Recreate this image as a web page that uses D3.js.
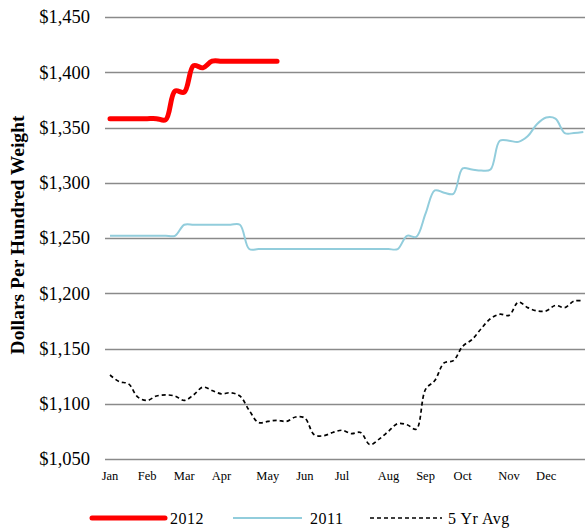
<!DOCTYPE html>
<html>
<head>
<meta charset="utf-8">
<script src="https://cdn.jsdelivr.net/npm/d3@7"></script>
<style>
	body { margin: 0; background: #fff; }
</style>
</head>
<body>
<div id="chart"></div>
<script>
// weekly points, 52 weeks, month names only shown on some weeks
var monthLabels = ["Jan", "Feb", "Mar", "Apr", "May", "Jun", "Jul", "Aug", "Sep", "Oct", "Nov", "Dec"];
var monthWeeks = [0, 4, 8, 12, 17, 21, 25, 30, 34, 38, 43, 47];

var yTicks = [1050, 1100, 1150, 1200, 1250, 1300, 1350, 1400, 1450];

var series2012 = [1358, 1358, 1358, 1358, 1358, 1358, 1357, 1383, 1382, 1406, 1404, 1410,
	1410, 1410, 1410, 1410, 1410, 1410, 1410];

var series2011 = [1252, 1252, 1252, 1252, 1252, 1252, 1252, 1252,
	1262, 1262, 1262, 1262, 1262, 1262, 1262,
	1240, 1240, 1240, 1240, 1240, 1240, 1240, 1240, 1240, 1240, 1240, 1240, 1240, 1240, 1240, 1240, 1240,
	1252, 1251, 1272, 1293, 1291, 1290, 1313, 1312, 1311, 1312, 1338, 1338, 1337, 1342, 1353, 1359, 1358,
	1345, 1345, 1346];

var series5yr = [1126, 1120, 1118, 1106, 1103, 1107, 1108, 1107, 1103, 1108, 1115, 1112, 1109,
	1110, 1107, 1094, 1083, 1084, 1085, 1084, 1088, 1087, 1072, 1071, 1074, 1076, 1073, 1074,
	1063, 1068, 1075, 1082, 1081, 1077, 1113, 1121, 1137, 1139, 1152, 1158, 1168, 1177, 1181,
	1180, 1192, 1187, 1184, 1184, 1189, 1187, 1193, 1193];

var width = 585, height = 530;
var plot = {left: 105, right: 585, top: 17, bottom: 459};
var serif = "'Liberation Serif', 'Times New Roman', Times, 'DejaVu Serif', serif";

var svg = d3.select("#chart").append("svg")
	.attr("width", width)
	.attr("height", height)
	.style("font-family", serif);

var x = d3.scalePoint()
	.domain(d3.range(52))
	.range([110, 583.3]);

var y = d3.scaleLinear()
	.domain([1050, 1450])
	.range([plot.bottom, plot.top]);

// gridlines
svg.append("g").selectAll("line")
	.data(yTicks)
	.enter()
	.append("line")
	.attr("x1", plot.left)
	.attr("x2", plot.right)
	.attr("y1", function(d) {return Math.round(y(d)) + 0.5})
	.attr("y2", function(d) {return Math.round(y(d)) + 0.5})
	.attr("stroke", "#8a8a8a")
	.attr("stroke-width", 1.6);

// y tick labels
svg.append("g").selectAll("text")
	.data(yTicks)
	.enter()
	.append("text")
	.attr("x", 90)
	.attr("y", function(d) {return y(d)})
	.attr("dy", "0.35em")
	.attr("text-anchor", "end")
	.style("font-size", "18.5px")
	.text(function(d) {return "$" + d3.format(",")(d)});

// month labels
svg.append("g").selectAll("text")
	.data(monthLabels)
	.enter()
	.append("text")
	.attr("x", function(d, i) {return x(monthWeeks[i])})
	.attr("y", 480)
	.attr("text-anchor", "middle")
	.style("font-size", "12.5px")
	.text(function(d) {return d});

svg.append("text")
	.attr("transform", "translate(24, 235) rotate(-90)")
	.attr("text-anchor", "middle")
	.style("font-size", "19.5px")
	.style("font-weight", "bold")
	.text("Dollars Per Hundred Weight");

var line = d3.line()
	.x(function(d, i) {return x(i)})
	.y(function(d) {return y(d)})
	.curve(d3.curveCatmullRom.alpha(0.5));

svg.append("path")
	.datum(series5yr)
	.attr("d", line)
	.attr("fill", "none")
	.attr("stroke", "#000")
	.attr("stroke-width", 1.7)
	.attr("stroke-dasharray", "4,3");

svg.append("path")
	.datum(series2011)
	.attr("d", line)
	.attr("fill", "none")
	.attr("stroke", "#92cddc")
	.attr("stroke-width", 2);

svg.append("path")
	.datum(series2012)
	.attr("d", line)
	.attr("fill", "none")
	.attr("stroke", "#ff0000")
	.attr("stroke-width", 5)
	.attr("stroke-linecap", "round")
	.attr("stroke-linejoin", "round");

// legend
var legendItems = [
	{name: "2012", x1: 92, x2: 165, tx: 170, color: "#ff0000", w: 5, dash: null},
	{name: "2011", x1: 233, x2: 302, tx: 310, color: "#92cddc", w: 2, dash: null},
	{name: "5 Yr Avg", x1: 370, x2: 442, tx: 448, color: "#000", w: 1.7, dash: "4,3"}
];
var legendY = 518;
var legend = svg.append("g").selectAll("g")
	.data(legendItems)
	.enter()
	.append("g");

legend.append("line")
	.attr("x1", function(d) {return d.x1})
	.attr("x2", function(d) {return d.x2})
	.attr("y1", legendY)
	.attr("y2", legendY)
	.attr("stroke", function(d) {return d.color})
	.attr("stroke-width", function(d) {return d.w})
	.attr("stroke-linecap", function(d) {return d.w > 3 ? "round" : "butt"})
	.attr("stroke-dasharray", function(d) {return d.dash});

legend.append("text")
	.attr("x", function(d) {return d.tx})
	.attr("y", legendY + 5.5)
	.style("font-size", "16px")
	.style("letter-spacing", "0.5px")
	.text(function(d) {return d.name});
</script>
</body>
</html>
